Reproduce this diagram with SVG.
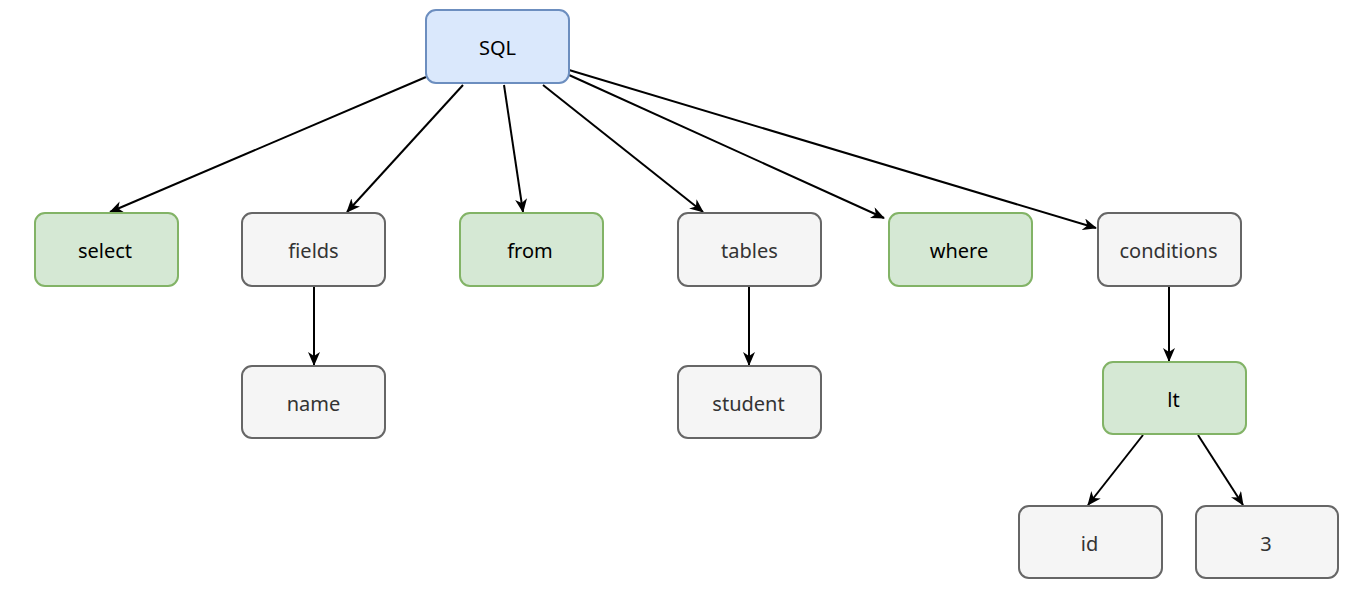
<svg xmlns="http://www.w3.org/2000/svg" width="1356" height="594" viewBox="0 0 1356 594">
<style>
.n rect{stroke-width:2}
.blue rect{fill:#dae8fc;stroke:#6c8ebf}
.green rect{fill:#d5e8d4;stroke:#82b366}
.gray rect{fill:#f5f5f5;stroke:#666666}
text{font-family:"Comic Sans MS","Noto Sans","DejaVu Sans",sans-serif;font-size:20px;text-anchor:middle;dominant-baseline:central}
.blue text,.green text{fill:#000}
.gray text{fill:#333333}
#edges path{fill:none;stroke:#000;stroke-width:2;marker-end:url(#arr)}
</style>
<defs>
<marker id="arr" markerUnits="userSpaceOnUse" markerWidth="14" markerHeight="12" viewBox="0 0 14 12" refX="13" refY="6" orient="auto">
<path d="M0,0 L14,6 L0,12 L4,6 Z" fill="#000"/>
</marker>
</defs>
<rect width="1356" height="594" fill="#fff"/>
<g id="edges">
<path d="M426,77 L110,212"/>
<path d="M463,85 L347,212"/>
<path d="M504,85 L523,212"/>
<path d="M543,85 L703,212"/>
<path d="M569,75 L884,218"/>
<path d="M569,70 L1096,228"/>
<path d="M314,287 L314,365"/>
<path d="M749,287 L749,365"/>
<path d="M1169,287 L1169,361"/>
<path d="M1143,435 L1088,505"/>
<path d="M1198,435 L1243,505"/>
</g>
<g id="n-sql" class="n blue"><rect x="426" y="10" width="143" height="73" rx="10"/><text x="497.5" y="47">SQL</text></g>
<g id="n-select" class="n green"><rect x="35" y="213" width="143" height="73" rx="10"/><text x="105" y="250.5">select</text></g>
<g id="n-fields" class="n gray"><rect x="242" y="213" width="143" height="73" rx="10"/><text x="313.5" y="250.5">fields</text></g>
<g id="n-from" class="n green"><rect x="460" y="213" width="143" height="73" rx="10"/><text x="530" y="250.5">from</text></g>
<g id="n-tables" class="n gray"><rect x="678" y="213" width="143" height="73" rx="10"/><text x="749.5" y="250.5">tables</text></g>
<g id="n-where" class="n green"><rect x="889" y="213" width="143" height="73" rx="10"/><text x="959" y="250.5">where</text></g>
<g id="n-conditions" class="n gray"><rect x="1098" y="213" width="143" height="73" rx="10"/><text x="1168.5" y="250.5">conditions</text></g>
<g id="n-name" class="n gray"><rect x="242" y="366" width="143" height="72" rx="10"/><text x="313.5" y="403">name</text></g>
<g id="n-student" class="n gray"><rect x="678" y="366" width="143" height="72" rx="10"/><text x="748.5" y="403">student</text></g>
<g id="n-lt" class="n green"><rect x="1103" y="362" width="143" height="72" rx="10"/><text x="1173.5" y="399">lt</text></g>
<g id="n-id" class="n gray"><rect x="1019" y="506" width="143" height="72" rx="10"/><text x="1089.5" y="543">id</text></g>
<g id="n-3" class="n gray"><rect x="1196" y="506" width="142" height="72" rx="10"/><text x="1266" y="543">3</text></g>
</svg>
